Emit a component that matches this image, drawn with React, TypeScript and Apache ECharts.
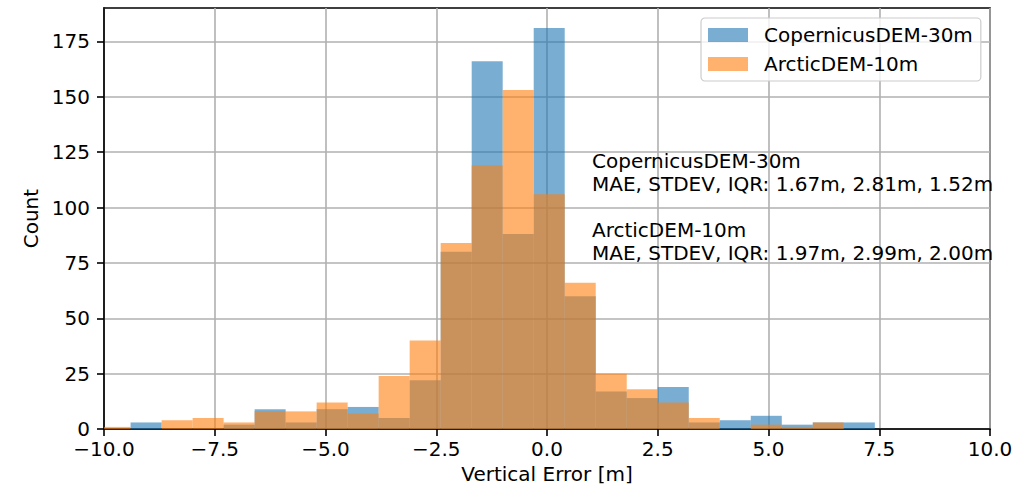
import React, { useEffect, useRef } from "react";
import * as echarts from "echarts";

const binEdges = [-10.1, -9.4, -8.7, -8.0, -7.3, -6.6, -5.9, -5.2, -4.5, -3.8, -3.1, -2.4, -1.7, -1.0, -0.3, 0.4, 1.1, 1.8, 2.5, 3.2, 3.9, 4.6, 5.3, 6.0, 6.7, 7.4];
const copernicusCounts = [0, 3, 0, 0, 2, 9, 3, 9, 10, 5, 22, 80, 166, 88, 181, 60, 17, 14, 19, 3, 4, 6, 2, 3, 3];
const arcticCounts = [1, 0, 4, 5, 3, 8, 8, 12, 7, 24, 40, 84, 119, 153, 106, 66, 25, 18, 12, 5, 0, 2, 1, 3, 0];
const xTicks = [-10, -7.5, -5, -2.5, 0, 2.5, 5, 7.5, 10];
const yTicks = [0, 25, 50, 75, 100, 125, 150, 175];
const seriesNames = ["CopernicusDEM-30m", "ArcticDEM-10m"];
const annotationLines = [
  "CopernicusDEM-30m",
  "MAE, STDEV, IQR: 1.67m, 2.81m, 1.52m",
  "ArcticDEM-10m",
  "MAE, STDEV, IQR: 1.97m, 2.99m, 2.00m",
];

const FONT = "DejaVu Sans";
const FS = 20;
const BLUE = "rgba(31,119,180,0.6)";
const ORANGE = "rgba(255,127,14,0.6)";

function toData(counts: number[]) {
  return counts.map((c, i) => [binEdges[i], binEdges[i + 1], c]);
}

function makeRender(fill: string) {
  return (params: any, api: any) => {
    const x0 = api.value(0);
    const x1 = api.value(1);
    const c = api.value(2);
    const p0 = api.coord([x0, c]);
    const p1 = api.coord([x1, 0]);
    const rect = echarts.graphic.clipRectByRect(
      { x: p0[0], y: p0[1], width: p1[0] - p0[0], height: p1[1] - p0[1] },
      {
        x: params.coordSys.x,
        y: params.coordSys.y,
        width: params.coordSys.width,
        height: params.coordSys.height,
      }
    );
    if (!rect) return null;
    return { type: "rect", shape: rect, style: { fill } };
  };
}

const fmtMinus = (v: number, digits: number) => {
  const s = v.toFixed(digits);
  return s.startsWith("-") ? "\u2212" + s.slice(1) : s;
};

export default function App() {
  const ref = useRef<HTMLDivElement>(null);
  useEffect(() => {
    if (!ref.current) return;
    const chart = echarts.init(ref.current, null, { renderer: "svg" });
    chart.setOption({
      animation: false,
      backgroundColor: "#fff",
      textStyle: { fontFamily: FONT },
      grid: {
        left: 104,
        right: 43,
        top: 8,
        bottom: 59,
        show: true,
        borderColor: "#000",
        borderWidth: 1.6,
        backgroundColor: "transparent",
      },
      xAxis: {
        type: "value",
        min: -10,
        max: 10,
        interval: 2.5,
        name: "Vertical Error [m]",
        nameLocation: "middle",
        nameGap: 28,
        nameTextStyle: { fontFamily: FONT, fontSize: FS, color: "#000" },
        axisLine: { show: true, onZero: false, lineStyle: { color: "#000", width: 1.6 } },
        axisTick: { show: true, length: 7, lineStyle: { color: "#000", width: 1.6 } },
        axisLabel: {
          fontFamily: FONT,
          fontSize: FS,
          lineHeight: 16,
          color: "#000",
          margin: 12,
          customValues: xTicks,
          formatter: (v: number) => fmtMinus(v, 1),
        },
        splitLine: { show: true, lineStyle: { color: "#b0b0b0", width: 1.6 } },
      },
      yAxis: {
        type: "value",
        min: 0,
        max: 190.05,
        interval: 25,
        name: "Count",
        nameLocation: "middle",
        nameGap: 58,
        nameRotate: 90,
        nameTextStyle: { fontFamily: FONT, fontSize: FS, color: "#000" },
        axisLine: { show: true, onZero: false, lineStyle: { color: "#000", width: 1.6 } },
        axisTick: { show: true, length: 7, customValues: yTicks, lineStyle: { color: "#000", width: 1.6 } },
        axisLabel: {
          fontFamily: FONT,
          fontSize: FS,
          lineHeight: 16,
          color: "#000",
          margin: 14,
          customValues: yTicks,
          formatter: (v: number) => (v % 25 === 0 ? String(v) : ""),
        },
        splitLine: { show: true, lineStyle: { color: "#b0b0b0", width: 1.6 } },
      },
      legend: {
        orient: "vertical",
        left: 701,
        top: 18,
        padding: [7, 8, 7, 7],
        itemGap: 9,
        itemWidth: 40,
        itemHeight: 14,
        icon: "rect",
        backgroundColor: "rgba(255,255,255,0.8)",
        borderColor: "#cccccc",
        borderWidth: 1.2,
        borderRadius: 4,
        textStyle: { fontFamily: FONT, fontSize: FS, color: "#000", padding: [0, 0, 0, 11] },
        data: [
          { name: seriesNames[0], itemStyle: { color: BLUE } },
          { name: seriesNames[1], itemStyle: { color: ORANGE } },
        ],
      },
      graphic: annotationLines.map((t, i) => ({
        type: "text",
        left: 592,
        top: [151, 174, 220, 243][i],
        z: 10,
        style: { text: t, font: `${FS}px ${FONT}`, fill: "#000" },
      })),
      series: [
        {
          type: "custom",
          name: seriesNames[0],
          renderItem: makeRender(BLUE),
          itemStyle: { color: BLUE },
          encode: { x: [0, 1], y: 2 },
          data: toData(copernicusCounts),
          z: 2,
        },
        {
          type: "custom",
          name: seriesNames[1],
          renderItem: makeRender(ORANGE),
          itemStyle: { color: ORANGE },
          encode: { x: [0, 1], y: 2 },
          data: toData(arcticCounts),
          z: 3,
        },
      ],
    });
    return () => chart.dispose();
  }, []);
  return (
    <div
      ref={ref}
      style={{ position: "fixed", left: 0, top: 0, width: 1033, height: 489 }}
    />
  );
}
